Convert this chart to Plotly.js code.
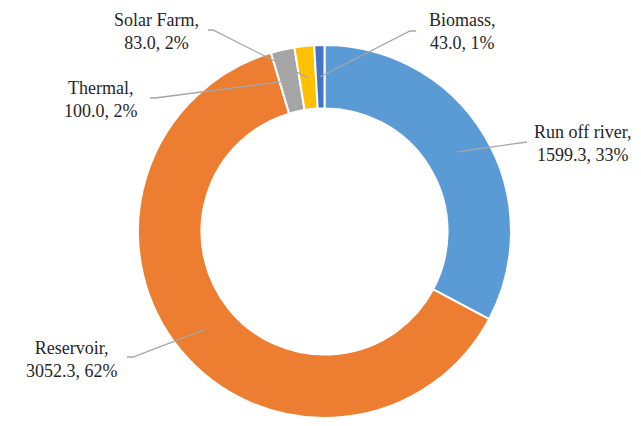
<!DOCTYPE html>
<html>
<head>
<meta charset="utf-8">
<script src="https://cdn.plot.ly/plotly-3.0.1.min.js"></script>
<style>html,body{margin:0;padding:0;background:#fff;}#chart{width:641px;height:426px;}</style>
</head>
<body>
<div id="chart"></div>
<script>
// ---- data ----
const categories = ["Run off river", "Reservoir", "Thermal", "Solar Farm", "Biomass"];
const values = [1599.3, 3052.3, 100.0, 83.0, 43.0];
const percentLabels = [33, 62, 2, 2, 1];
const colors = ["#5B9BD5", "#ED7D31", "#A5A5A5", "#FFC000", "#4472C4"];

// ---- layout helpers (pixel geometry of the figure) ----
const W = 641, H = 426;
const cx = 324.5, cy = 231.5, rOut = 186.5, hole = 0.66;
const px = x => x / W;
const py = y => 1 - y / H;

// label block centres and leader-line bends (pixels)
const labelPos = [
  {x: 582, y: 143, bends: [[527, 142]]},
  {x: 72,  y: 359, bends: [[133, 357], [127, 357]]},
  {x: 101, y: 99,  bends: [[155, 98], [150, 98]]},
  {x: 156, y: 31,  bends: [[213, 30], [208, 30]]},
  {x: 463, y: 31,  bends: [[410, 31], [416, 31]]}
];

const total = values.reduce((a, b) => a + b, 0);
const rMid = rOut * (1 + hole) / 2;
let cum = 0;
const shapes = [], annotations = [];
values.forEach((v, i) => {
  const midFrac = (cum + v / 2) / total;
  cum += v;
  const ang = midFrac * 2 * Math.PI; // clockwise from 12 o'clock
  const sx = cx + rMid * Math.sin(ang);
  const sy = cy - rMid * Math.cos(ang);
  const L = labelPos[i];
  let d = `M${px(sx)},${py(sy)}`;
  L.bends.forEach(b => { d += ` L${px(b[0])},${py(b[1])}`; });
  shapes.push({type: 'path', xref: 'paper', yref: 'paper', path: d,
    line: {color: '#A6A6A6', width: 1.3}});
  annotations.push({
    xref: 'paper', yref: 'paper', x: px(L.x), y: py(L.y),
    xanchor: 'center', yanchor: 'middle', showarrow: false, align: 'center',
    text: categories[i] + ',<br>' + v.toFixed(1) + ', ' + percentLabels[i] + '%',
    font: {family: 'Liberation Serif, Times New Roman, serif', size: 18, color: '#262626'}
  });
});

const trace = {
  type: 'pie',
  labels: categories,
  values: values,
  hole: hole,
  sort: false,
  direction: 'clockwise',
  rotation: 0,
  textinfo: 'none',
  hoverinfo: 'label+value+percent',
  marker: {colors: colors, line: {color: '#FFFFFF', width: 2}},
  domain: {x: [px(cx - rOut), px(cx + rOut)], y: [py(cy + rOut), py(cy - rOut)]}
};

Plotly.newPlot('chart', [trace], {
  width: W, height: H,
  margin: {l: 0, r: 0, t: 0, b: 0},
  showlegend: false,
  paper_bgcolor: '#FFFFFF',
  shapes: shapes,
  annotations: annotations
}, {displayModeBar: false, staticPlot: true});
</script>
</body>
</html>
